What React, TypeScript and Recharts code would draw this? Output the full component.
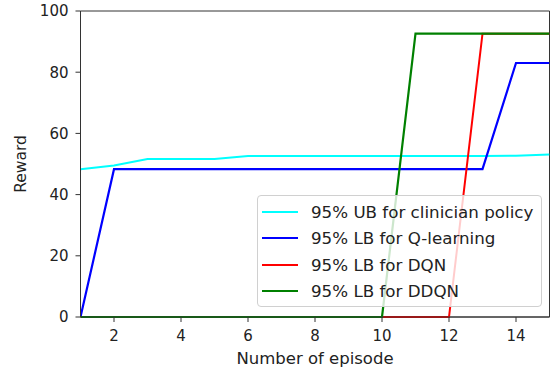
import React from 'react';
import { LineChart, Line, XAxis, YAxis, Legend, ReferenceArea } from 'recharts';

const episodes = [1, 2, 3, 4, 5, 6, 7, 8, 9, 10, 11, 12, 13, 14, 15];
const clinicianUB = [48.3, 49.5, 51.6, 51.6, 51.6, 52.6, 52.6, 52.6, 52.6, 52.6, 52.6, 52.6, 52.6, 52.7, 53.1];
const qLearningLB = [0, 48.3, 48.3, 48.3, 48.3, 48.3, 48.3, 48.3, 48.3, 48.3, 48.3, 48.3, 48.3, 83, 83];
const dqnLB = [0, 0, 0, 0, 0, 0, 0, 0, 0, 0, 0, 0, 92.6, 92.6, 92.6];
const ddqnLB = [0, 0, 0, 0, 0, 0, 0, 0, 0, 0, 92.6, 92.6, 92.6, 92.6, 92.6];
const xTicks = [2, 4, 6, 8, 10, 12, 14];
const yTicks = [0, 20, 40, 60, 80, 100];

const seriesKeys = ['ub', 'q', 'dqn', 'ddqn'];
const seriesNames: Record<string, string> = {
  ub: '95% UB for clinician policy',
  q: '95% LB for Q-learning',
  dqn: '95% LB for DQN',
  ddqn: '95% LB for DDQN',
};

const data = episodes.map((ep, i) => ({
  ep,
  ub: clinicianUB[i],
  q: qLearningLB[i],
  dqn: dqnLB[i],
  ddqn: ddqnLB[i],
}));

const FONT = '"DejaVu Sans", sans-serif';
const TEXT = '#222';
const AXIS = '#333';

const LegendBox = (props: any) => {
  const payload = [...(props.payload || [])].sort(
    (a: any, b: any) => seriesKeys.indexOf(a.dataKey) - seriesKeys.indexOf(b.dataKey)
  );
  return (
    <div
      style={{
        width: 283,
        height: 110,
        border: '1px solid #d0d0d0',
        borderRadius: 4,
        background: 'rgba(255,255,255,0.8)',
        fontFamily: FONT,
        fontSize: 16.7,
        color: TEXT,
        boxSizing: 'content-box',
        position: 'relative',
      }}
    >
      {payload.map((p: any, i: number) => (
        <div
          key={i}
          style={{
            position: 'absolute',
            left: 0,
            top: 16 + i * 26.3 - 13,
            height: 26,
            display: 'flex',
            alignItems: 'center',
            whiteSpace: 'nowrap',
          }}
        >
          <div style={{ marginLeft: 4, width: 36, height: 2.2, background: p.color }} />
          <span style={{ marginLeft: 13 }}>{p.value}</span>
        </div>
      ))}
    </div>
  );
};

export default function App() {
  return (
    <div style={{ position: 'absolute', left: 0, top: 0, width: 551, height: 372, background: '#fff' }}>
      <LineChart width={551} height={372} data={data} margin={{ top: 11, right: 1.5, bottom: 0, left: 0 }}>
        <XAxis
          dataKey="ep"
          type="number"
          domain={[1, 15]}
          ticks={xTicks}
          allowDataOverflow
          height={55}
          stroke={AXIS}
          tickSize={5}
          tickMargin={8}
          tick={{ fill: TEXT, fontSize: 15, fontFamily: FONT }}
          label={{ value: 'Number of episode', position: 'insideBottom', offset: 8, fill: TEXT, fontSize: 16.5, fontFamily: FONT }}
        />
        <YAxis
          type="number"
          domain={[0, 100]}
          ticks={yTicks}
          width={80.5}
          stroke={AXIS}
          tickSize={5}
          tickMargin={7}
          tick={{ fill: TEXT, fontSize: 15, fontFamily: FONT }}
          label={{ value: 'Reward', angle: -90, position: 'insideLeft', offset: 20, fill: TEXT, fontSize: 15.5, fontFamily: FONT, style: { textAnchor: 'middle' } }}
        />
        <ReferenceArea x1={1} x2={15} y1={0} y2={100} fill="none" stroke={AXIS} strokeWidth={1} />
        <Line type="linear" dataKey="ub" name={seriesNames.ub} stroke="#00ffff" strokeWidth={2} dot={false} isAnimationActive={false} />
        <Line type="linear" dataKey="q" name={seriesNames.q} stroke="#0000ff" strokeWidth={2.2} dot={false} isAnimationActive={false} />
        <Line type="linear" dataKey="dqn" name={seriesNames.dqn} stroke="#ff0000" strokeWidth={2} dot={false} isAnimationActive={false} />
        <Line type="linear" dataKey="ddqn" name={seriesNames.ddqn} stroke="#008000" strokeWidth={2.2} dot={false} isAnimationActive={false} />
        <Legend
          layout="vertical"
          verticalAlign="middle"
          align="center"
          content={<LegendBox />}
          wrapperStyle={{ position: 'absolute', left: 257, top: 195, width: 285, height: 112, margin: 0, padding: 0 }}
        />
      </LineChart>
    </div>
  );
}
